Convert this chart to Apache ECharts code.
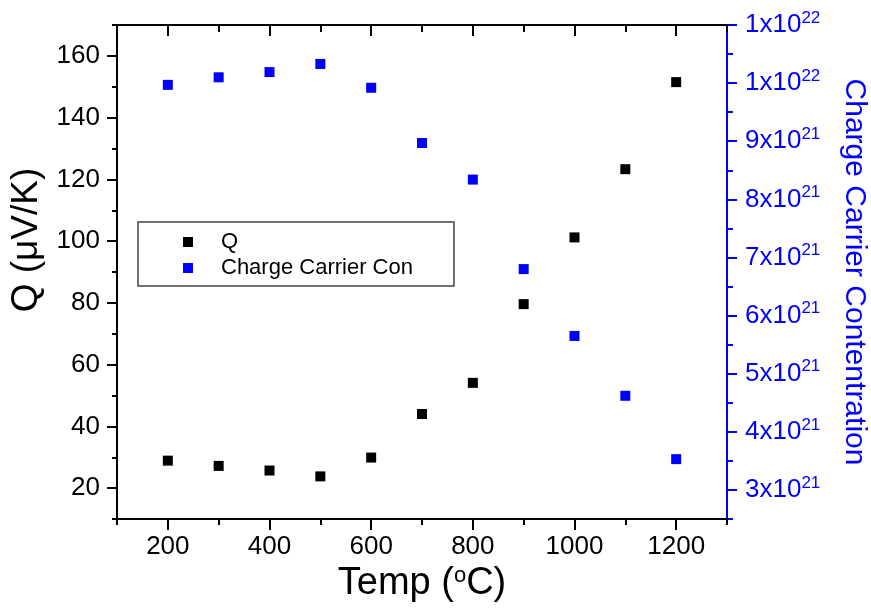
<!DOCTYPE html>
<html>
<head>
<meta charset="utf-8">
<script src="https://cdn.jsdelivr.net/npm/echarts@6.0.0/dist/echarts.min.js"></script>
<style>
  html, body { margin: 0; padding: 0; background: #fff; }
  .main { width: 871px; height: 608px; }
</style>
</head>
<body>
<div class="main"></div>
<script>
// data
const temps = [200, 300, 400, 500, 600, 700, 800, 900, 1000, 1100, 1200]
const qValues = [28.9, 27.2, 25.7, 23.8, 29.9, 44.0, 54.1, 79.6, 101.2, 123.3, 151.5]
const carrierValues = [9.97e21, 10.10e21, 10.19e21, 10.33e21, 9.92e21, 8.97e21, 8.34e21, 6.80e21, 5.65e21, 4.62e21, 3.53e21]

// tick labels
const xMajor = [200, 400, 600, 800, 1000, 1200]
const xMinor = [100, 300, 500, 700, 900, 1100, 1300]
const qMajor = [20, 40, 60, 80, 100, 120, 140, 160]
const qMinor = [10, 30, 50, 70, 90, 110, 130, 150, 170]
const nMajor = [3e21, 4e21, 5e21, 6e21, 7e21, 8e21, 9e21, 10e21, 11e21]
const nMinor = [2.5e21, 3.5e21, 4.5e21, 5.5e21, 6.5e21, 7.5e21, 8.5e21, 9.5e21, 10.5e21]

const FONT = '"Liberation Sans", Arial, sans-serif'
const BLUE = '#0000ff'

function pairs(xs, ys) {
    let out = []
    for (let i = 0; i < xs.length; i++) {
        out.push([xs[i], ys[i]])
    }
    return out
}

// 3e21 -> 3x10^21, 1.1e22 -> 1x10^22 (same rounding as the original)
function sciLabel(v) {
    let m = v / 1e21
    if (m >= 9.999) {
        return '{b|' + Math.round(v / 1e22) + 'x10}{s|22}'
    }
    return '{b|' + Math.round(m) + 'x10}{s|21}'
}

var myChart = echarts.init(document.querySelector('.main'))

let option = {
    animation: false,
    textStyle: { fontFamily: FONT },
    grid: {
        left: 117,
        right: 144,
        top: 25,
        bottom: 89,
        containLabel: false,
        outerBoundsMode: 'none'
    },
    legend: {
        orient: 'vertical',
        left: 138,
        top: 222,
        data: ['Q', 'Charge Carrier Con'],
        icon: 'rect',
        itemWidth: 10,
        itemHeight: 10,
        itemGap: 4,
        padding: [9, 41, 7, 45],
        borderColor: '#444',
        borderWidth: 1.5,
        borderRadius: 0,
        textStyle: {
            fontFamily: FONT,
            fontSize: 22,
            color: '#000',
            padding: [0, 0, 0, 23]
        }
    },
    xAxis: [
        {
            type: 'value',
            position: 'bottom',
            min: 100,
            max: 1300,
            axisLine: { show: true, lineStyle: { color: '#000', width: 2 } },
            axisTick: { show: true, inside: false, length: 11, customValues: xMajor, lineStyle: { color: '#000', width: 2 } },
            axisLabel: { customValues: xMajor, color: '#000', fontSize: 26, fontFamily: FONT, margin: 15, formatter: v => String(v) },
            splitLine: { show: false },
            name: 'Temp ({sup|o}C)',
            nameLocation: 'middle',
            nameGap: 40,
            nameTextStyle: {
                color: '#000',
                fontSize: 38,
                fontFamily: FONT,
                rich: {
                    sup: { fontSize: 22, fontFamily: FONT, color: '#000', verticalAlign: 'top', padding: [0, 0, 14, 0] }
                }
            }
        },
        {
            type: 'value',
            position: 'bottom',
            min: 100,
            max: 1300,
            axisLine: { show: false },
            axisTick: { show: true, inside: false, length: 6, customValues: xMinor, lineStyle: { color: '#000', width: 2 } },
            axisLabel: { show: false },
            splitLine: { show: false }
        },
        {
            type: 'value',
            position: 'top',
            min: 100,
            max: 1300,
            axisLine: { show: true, lineStyle: { color: '#000', width: 2 } },
            axisTick: { show: true, inside: true, length: 11, customValues: xMajor, lineStyle: { color: '#000', width: 2 } },
            axisLabel: { show: false },
            splitLine: { show: false }
        },
        {
            type: 'value',
            position: 'top',
            min: 100,
            max: 1300,
            axisLine: { show: false },
            axisTick: { show: true, inside: true, length: 7, customValues: xMinor, lineStyle: { color: '#000', width: 2 } },
            axisLabel: { show: false },
            splitLine: { show: false }
        }
    ],
    yAxis: [
        {
            type: 'value',
            position: 'left',
            min: 10,
            max: 170,
            axisLine: { show: true, lineStyle: { color: '#000', width: 2 } },
            axisTick: { show: true, inside: false, length: 10, customValues: qMajor, lineStyle: { color: '#000', width: 2 } },
            axisLabel: { customValues: qMajor, color: '#000', fontSize: 26, fontFamily: FONT, margin: 17 },
            splitLine: { show: false },
            name: 'Q (μV/K)',
            nameLocation: 'middle',
            nameRotate: 90,
            nameGap: 61,
            nameTextStyle: {
                color: '#000',
                fontSize: 37,
                fontFamily: FONT,
                padding: [0, 0, 0, 64]
            }
        },
        {
            type: 'value',
            position: 'left',
            min: 10,
            max: 170,
            axisLine: { show: false },
            axisTick: { show: true, inside: false, length: 5, customValues: qMinor, lineStyle: { color: '#000', width: 2 } },
            axisLabel: { show: false },
            splitLine: { show: false }
        },
        {
            type: 'value',
            position: 'right',
            min: 2.5e21,
            max: 11e21,
            axisLine: { show: true, lineStyle: { color: BLUE, width: 2 } },
            axisTick: { show: true, inside: false, length: 10, customValues: nMajor, lineStyle: { color: BLUE, width: 2 } },
            axisLabel: {
                customValues: nMajor,
                margin: 18,
                formatter: sciLabel,
                rich: {
                    b: { fontSize: 26, fontFamily: FONT, color: BLUE },
                    s: { fontSize: 17, fontFamily: FONT, color: BLUE, verticalAlign: 'top', padding: [0, 0, 14, 0] }
                }
            },
            splitLine: { show: false },
            name: 'Charge Carrier Contentration',
            nameLocation: 'middle',
            nameRotate: -90,
            nameGap: 112,
            nameTextStyle: {
                color: BLUE,
                fontSize: 30,
                fontFamily: FONT
            }
        },
        {
            type: 'value',
            position: 'right',
            min: 2.5e21,
            max: 11e21,
            axisLine: { show: false },
            axisTick: { show: true, inside: false, length: 6, customValues: nMinor, lineStyle: { color: BLUE, width: 2 } },
            axisLabel: { show: false },
            splitLine: { show: false }
        }
    ],
    series: [
        {
            name: 'Q',
            type: 'scatter',
            xAxisIndex: 0,
            yAxisIndex: 0,
            symbol: 'rect',
            symbolSize: 10,
            itemStyle: { color: '#000', opacity: 1 },
            data: pairs(temps, qValues)
        },
        {
            name: 'Charge Carrier Con',
            type: 'scatter',
            xAxisIndex: 0,
            yAxisIndex: 2,
            symbol: 'rect',
            symbolSize: 10,
            itemStyle: { color: BLUE, opacity: 1 },
            data: pairs(temps, carrierValues)
        }
    ]
}

myChart.setOption(option)
</script>
</body>
</html>
